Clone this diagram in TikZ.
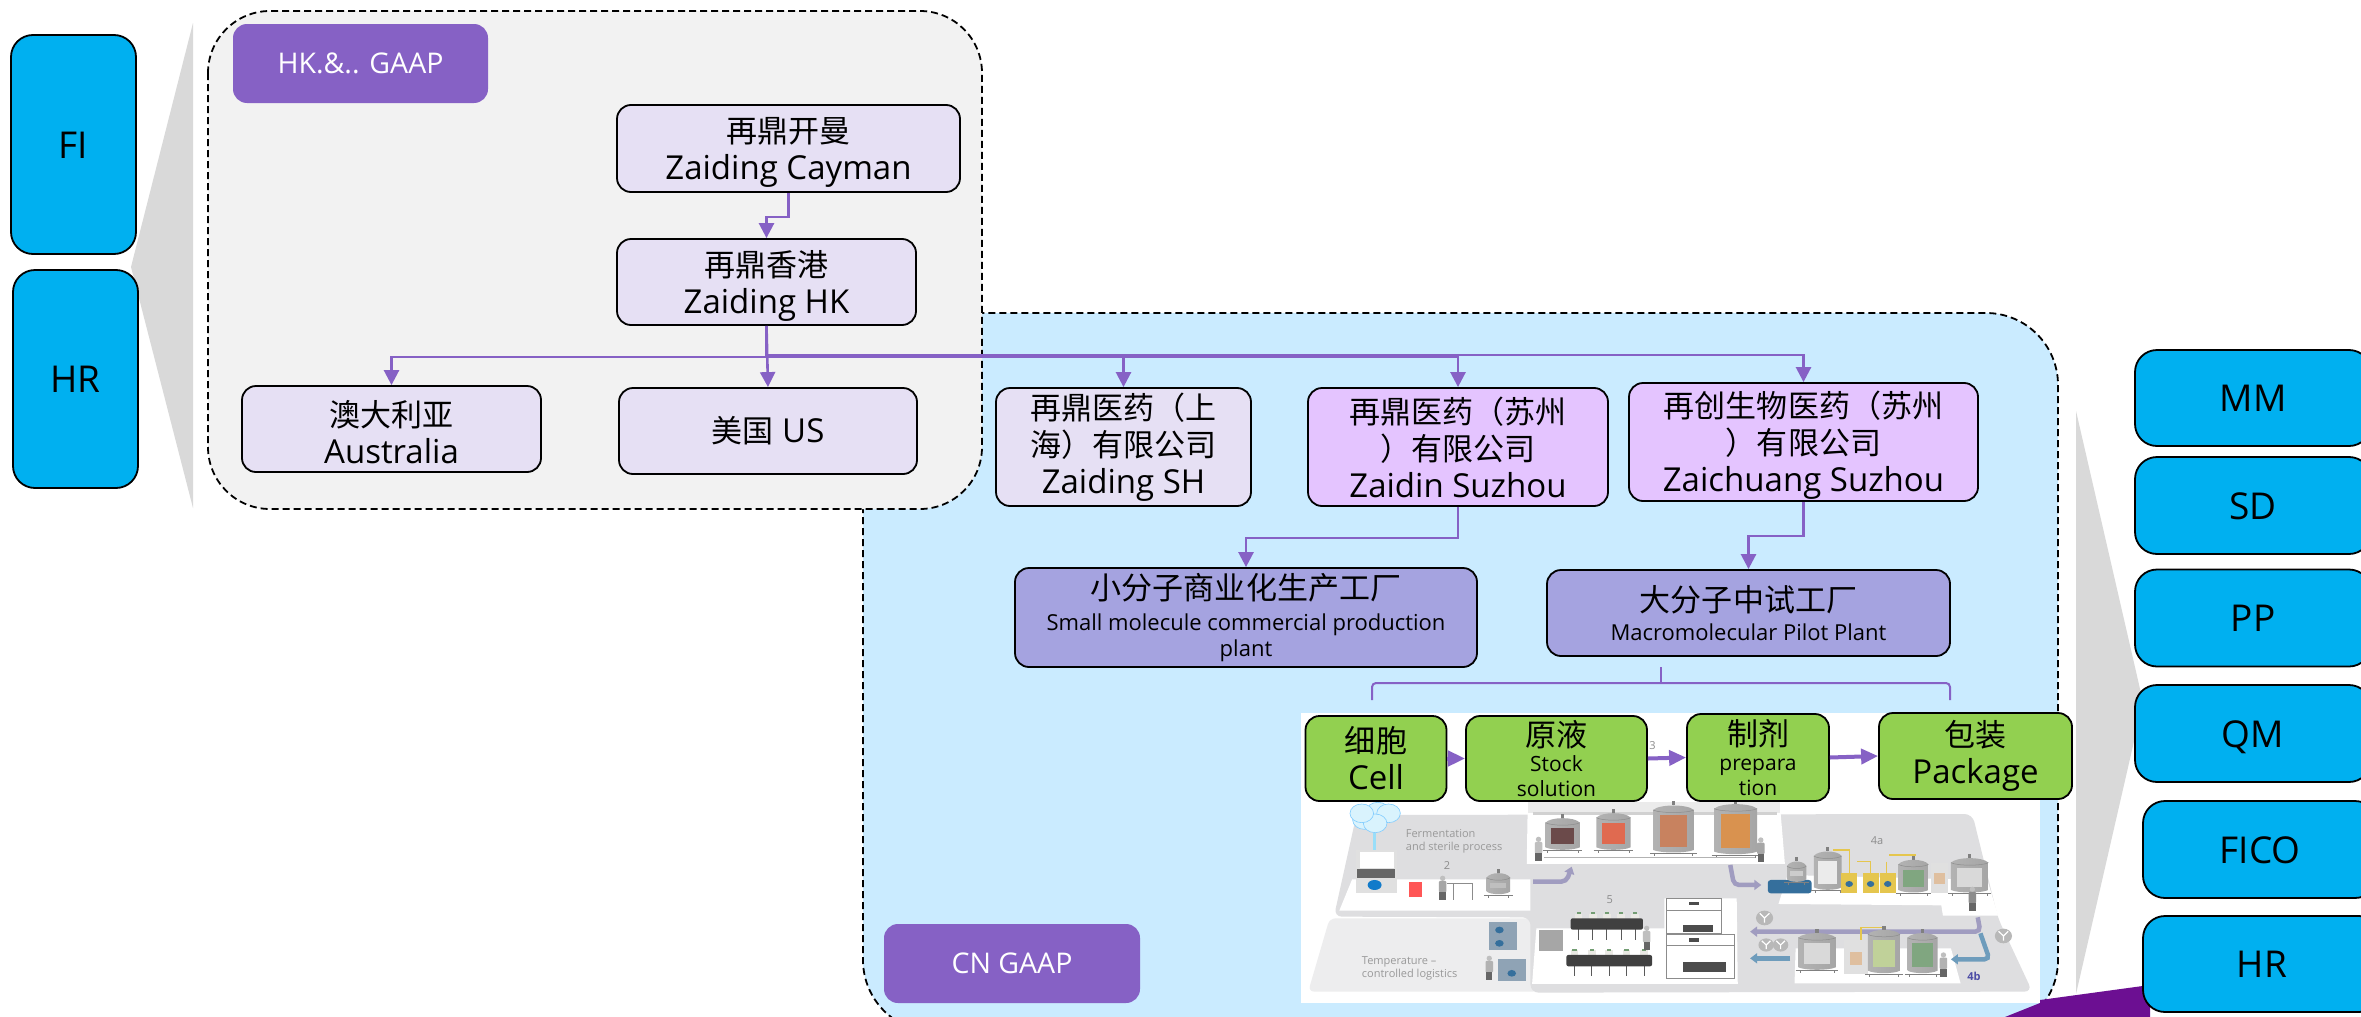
\documentclass[tikz,border=0pt]{standalone}
\usepackage{fontspec}
\setmainfont{Open Sans}
\newfontfamily\cjkf[Scale=0.94]{Noto Sans CJK SC}
\usetikzlibrary{arrows.meta}
\newcommand\zh[1]{{\cjkf #1}}
\newcommand\tp{\rule{0pt}{33pt}}
\newcommand\subf{\fontsize{22}{25}\selectfont}
\newcommand\subg{\fontsize{21}{25}\selectfont}
\definecolor{arrowpurple}{HTML}{8661C5}
\definecolor{lavender}{HTML}{E6E0F4}
\definecolor{pinkish}{HTML}{E4C4FF}
\definecolor{plantblue}{HTML}{A5A3E0}
\definecolor{greenbox}{HTML}{92D050}
\definecolor{sapblue}{HTML}{00B0F0}
\definecolor{panelblue}{HTML}{CAEBFF}
\definecolor{panelgrey}{HTML}{F2F2F2}
\definecolor{funnel}{HTML}{D9D9D9}
\definecolor{darkpurple}{HTML}{6C0F92}
\definecolor{floorA}{HTML}{DEDEE0}
\definecolor{floorB}{HTML}{EDEDEE}
\definecolor{pipeP}{HTML}{A09CC0}
\definecolor{pipeB}{HTML}{6E9CBC}
\definecolor{crate}{HTML}{8FA3B5}
\definecolor{yel}{HTML}{E5C64E}
\definecolor{pump}{HTML}{356F9C}
\tikzset{
  x=1pt,y=-1pt,
  base/.style={draw=black,line width=1.8pt,rounded corners=14pt,inner sep=0pt,align=center,
    font=\fontsize{33}{37}\selectfont},
  sz/.style 2 args={minimum width=#1,minimum height=#2},
  lav/.style={base,fill=lavender},
  pink/.style={base,fill=pinkish},
  plant/.style={base,fill=plantblue},
  gbox/.style={base,fill=greenbox},
  sapbox/.style={base,fill=sapblue,rounded corners=22pt,font=\fontsize{37}{44}\selectfont,
    text height=27pt,text depth=0pt},
  tag/.style={fill=arrowpurple,rounded corners=14pt,text=white,inner sep=0pt,
    font=\fontsize{28.5}{33}\selectfont},
  panel/.style={draw=black,line width=1.8pt,dash pattern=on 7pt off 4pt},
  conn/.style={draw=arrowpurple,line width=2.6pt,-{Triangle[length=15pt,width=15pt]}},
  flow/.style={draw=arrowpurple,line width=4pt,-{Triangle[length=17pt,width=15pt]}},
  scenetext/.style={text=black!40,inner sep=0pt,align=left,font=\fontsize{11}{13}\selectfont},
  scenenum/.style={text=black!45,inner sep=0pt,font=\fontsize{11}{13}\selectfont},
  pipe/.style={line width=4.5pt,rounded corners=5pt,-{Triangle[length=7pt,width=10pt]}},
}
% vessel: centre x, top y, half width, bottom y, window colour
\newcommand\vessel[5]{%
  \fill[black!50] (#1-3,#2-8) rectangle (#1+3,#2+4);
  \shade[left color=black!30,middle color=white,right color=black!35]
     (#1-#3,#2+18) .. controls (#1-#3*0.7,#2) and (#1+#3*0.7,#2) .. (#1+#3,#2+18)
     -- (#1+#3,#4-10) .. controls (#1+#3*0.6,#4) and (#1-#3*0.6,#4) .. (#1-#3,#4-10) -- cycle;
  \draw[black!45,line width=0.5pt] (#1-#3,#2+18) .. controls (#1-#3*0.7,#2+28) and (#1+#3*0.7,#2+28) .. (#1+#3,#2+18);
  \fill[#5] (#1-#3*0.68,#2+34) rectangle (#1+#3*0.68,#4-20);
  \draw[black!50,line width=0.8pt] (#1-#3-5,#4) -- (#1+#3+5,#4);
  \draw[black!50,line width=0.6pt] (#1-#3+3,#4) -- ++(0,8) (#1+#3-3,#4) -- ++(0,8);
}
\newcommand\conveyor[3]{% x0,x1,y
  \foreach \cx in {0,1,2,3,4}{
    \draw[black!65,line width=0.7pt] ({#1+15+\cx*(#2-#1-30)/4},#3+30) -- ++(0,34);
    \fill[yellow!20!black!12] ({#1+8+\cx*(#2-#1-30)/4},#3-14) rectangle ++(14,16);
    \fill[green!30!black!55] ({#1+11+\cx*(#2-#1-30)/4},#3-18) rectangle ++(8,6);
  }
  \fill[black!75,rounded corners=2pt] (#1,#3) rectangle (#2,#3+34);
}
\newcommand\person[3]{% x, top y, colour
  \fill[black!25] (#1,#2) ellipse (5 and 8);
  \fill[#3,rounded corners=1pt] (#1-7,#2+8) rectangle (#1+7,#2+42);
  \fill[black!60] (#1-6,#2+42) rectangle (#1+6,#2+66);
}
\newcommand\abody[3]{% antibody bubble x,y,scale factor
  \fill[black!28] (#1,#2) ellipse (#3*16 and #3*22);
  \draw[white,line width=1.2pt] (#1,#2+#3*14) -- (#1,#2) -- (#1-#3*9,#2-#3*14) (#1,#2) -- (#1+#3*9,#2-#3*14);
}
\begin{document}
\begin{tikzpicture}
\useasboundingbox (0,0) rectangle (2361,1017);
\clip (0,0) rectangle (2361,1017);
\fill[white] (0,0) rectangle (2361,1017);

% funnels
\fill[funnel] (193,23) -- (131,267) -- (193,508) -- cycle;
\fill[funnel] (2076,411) -- (2143,702) -- (2076,994) -- cycle;

% blue panel, then grey panel
\draw[panel,fill=panelblue,rounded corners=72pt] (863,313) rectangle (2058,1032);
\draw[panel,fill=panelgrey,rounded corners=62pt] (208,11) rectangle (982,509);
\fill[darkpurple] (2005,1017) -- (2040,1003) -- (2040,1000) -- (2150,985) -- (2150,1017) -- cycle;

% factory picture
\begin{scope}[shift={(1260,680)},x=0.5356pt,y=-0.3333pt]
  \fill[white] (77,98) rectangle (1456,970);
  % floors
  \fill[floorB,rounded corners=6pt] (90,935) -- (130,715) -- (520,715) -- (520,935) -- cycle;
  \fill[floorA,rounded corners=8pt] (138,710) -- (180,405) -- (1330,402) -- (1378,715) -- (1442,935)
      -- (505,938) -- (505,712) -- cycle;
  % platforms
  \fill[white] (500,360) -- (970,360) -- (980,552) -- (498,552) -- cycle;
  \fill[white] (148,692) -- (172,598) -- (505,598) -- (505,692) -- cycle;
  \fill[white] (968,672) -- (985,585) -- (1358,600) -- (1378,707) -- (1275,707) -- (1272,676) -- cycle;
  \fill[white] (508,912) -- (516,745) -- (755,745) -- (755,655) -- (890,655) -- (892,912) -- cycle;
  \fill[white] (998,910) -- (1000,805) -- (1290,805) -- (1308,910) -- cycle;
  % pipes
  \draw[pipe,pipeP] (510,605) -- (572,605) -- (582,560);
  \draw[pipe,pipeP] (878,555) -- (885,615) -- (936,615);
  \draw[pipe,pipeP] (1340,712) -- (1345,755) -- (915,755);
  \draw[pipe,pipeB] (1345,760) -- (1362,838) -- (1290,838);
  \draw[pipe,pipeB] (990,835) -- (915,835);
  % fermentation: cells and freezer
  \foreach \a/\b in {195/420,220/395,240/400,215/430,190/400}
    \draw[blue!40!cyan!50,fill=cyan!15,line width=0.6pt] (\a,\b) ellipse (22 and 28);
  \draw[cyan!40,line width=3pt,-{Triangle[length=6pt,width=9pt]}] (214,460) -- (214,555);
  \fill[black!12] (180,510) rectangle (256,640);
  \fill[white] (186,515) rectangle (250,565);
  \fill[black!60] (182,566) rectangle (252,595);
  \fill[cyan!60!blue] (214,615) circle (13 and 15);
  \fill[red!55!pink] (278,605) rectangle (302,652);
  \person{341}{595}{black!35}
  \draw[black!45,line width=1pt] (350,610) -- (396,610) -- (396,660) (362,610) -- (362,660);
  \vessel{445}{575}{22}{645}{black!25}
  % reactors
  \fill[black!8] (500,365) rectangle (970,400);
  \draw[black!18,line width=3pt] (510,400) -- (965,400);
  \definecolor{winA}{HTML}{6B4A4A}
  \definecolor{winB}{HTML}{E06A50}
  \definecolor{winC}{HTML}{C8825F}
  \definecolor{winD}{HTML}{D9924F}
  \vessel{565}{410}{32}{512}{winA}
  \vessel{660}{395}{32}{512}{winB}
  \vessel{772}{372}{38}{520}{winC}
  \vessel{888}{368}{40}{525}{winD}
  \person{520}{478}{black!25}
  \person{935}{480}{black!35}
  \draw[black!30,line width=0.8pt] (530,532) -- (925,532);
  % 4a
  \draw[yel,line width=1.2pt] (1070,510) -- (1100,510) -- (1100,580) (1115,545) -- (1140,545) -- (1140,580) (1170,545) -- (1170,580) (1175,525) -- (1225,525);
  \fill[pump,rounded corners=3pt] (948,600) rectangle (1030,640);
  \vessel{1002}{540}{18}{608}{black!20}
  \vessel{1060}{510}{26}{632}{black!8}
  \foreach \a in {1100,1140,1172}{
    \fill[yel] (\a-15,580) rectangle (\a+15,640);
    \fill[pump] (\a,612) circle (7 and 9);
  }
  \vessel{1220}{535}{28}{640}{green!30!black!50}
  \fill[black!12] (1252,550) rectangle (1284,640);
  \fill[brown!50] (1258,580) rectangle (1278,612);
  \vessel{1325}{530}{35}{640}{black!15}
  \person{1330}{628}{black!45}
  % 4b
  \draw[yel,line width=1.2pt] (1122,780) -- (1122,742) -- (1162,742) -- (1162,760);
  \vessel{1040}{755}{35}{872}{black!15}
  \fill[black!12] (1090,780) rectangle (1135,882);
  \fill[brown!50] (1102,815) rectangle (1124,855);
  \vessel{1165}{745}{30}{882}{green!30!yellow!55!black!40}
  \vessel{1237}{755}{28}{882}{green!30!black!50}
  \person{1276}{825}{white!70!black}
  % 5
  \conveyor{580}{715}{715}
  \conveyor{572}{732}{825}
  \person{722}{745}{white!75!black}
  \draw[black!45,fill=white,line width=1pt] (758,655) rectangle (862,762);
  \draw[black!45,fill=white,line width=1pt] (758,692) rectangle (862,762);
  \draw[black!45,fill=white,line width=1pt] (758,765) rectangle (886,895);
  \draw[black!45,line width=1pt] (758,798) -- (886,798);
  \fill[black!70] (790,735) -- (845,735) -- (845,757) -- (790,757) -- cycle;
  \fill[black!70] (790,845) -- (870,845) -- (870,875) -- (790,875) -- cycle;
  \fill[black!70] (800,665) rectangle (820,675);
  \fill[black!70] (800,775) rectangle (820,785);
  \fill[black!35] (520,750) rectangle (566,812);
  % logistics
  \fill[crate] (428,725) rectangle (480,810);
  \fill[pump] (447,750) circle (8 and 10) (447,790) circle (8 and 10);
  \fill[crate] (444,838) rectangle (496,902);
  \fill[pump] (470,880) circle (8 and 10);
  \person{428}{835}{black!30}
  % antibodies
  \abody{942}{714}{1}
  \abody{945}{795}{0.9}
  \abody{972}{795}{0.9}
  \abody{1388}{768}{1}
  % texts
  \node[scenetext,anchor=west] (ferm) at (272,485) {Fermentation\\and sterile process};
  \node[scenetext,anchor=west] (temp) at (190,866) {Temperature –\\controlled logistics};
  \node[scenenum] (n2) at (349,558) {2};
  \node[scenenum] (n3) at (733,197) {3};
  \node[scenenum] (n4a) at (1152,482) {4a};
  \node[scenenum] (n5) at (653,658) {5};
  \node[scenenum,text=blue!50!black!70,font=\bfseries\fontsize{11}{13}\selectfont] (n4b) at (1333,888) {4b};
\end{scope}

% left boxes
\node[sapbox,sz={125pt}{219pt}] (fi) at (73.5,144.5) {FI};
\node[sapbox,sz={125pt}{218pt}] (hrl) at (75.5,379) {HR};

% tags
\node[tag,sz={255pt}{79pt}] (hktag) at (360.5,63.5) {HK.\&.. GAAP};
\node[tag,sz={256pt}{79pt}] (cntag) at (1012,963.5) {CN GAAP};

% HK group
\node[lav,sz={343pt}{87pt}] (cayman) at (788.5,148.5) {\tp\zh{再鼎开曼}\\Zaiding Cayman};
\node[lav,sz={299pt}{86pt}] (hk) at (766.5,282) {\tp\zh{再鼎香港}\\Zaiding HK};
\node[lav,sz={299pt}{86pt}] (aus) at (391.5,429) {\tp\zh{澳大利亚}\\Australia};
\node[lav,sz={298pt}{86pt}] (us) at (768,431) {\zh{美国} US};

% CN group
\node[lav,sz={255pt}{118pt}] (sh) at (1123.5,447) {\zh{再鼎医药（上}\\\zh{海）有限公司}\\Zaiding SH};
\node[pink,sz={300pt}{118pt}] (zaidin) at (1458,447) {\zh{再鼎医药（苏州}\\\zh{）有限公司}\\Zaidin Suzhou};
\node[pink,sz={349pt}{118pt}] (zaichuang) at (1803.5,442) {\tp\zh{再创生物医药（苏州}\\\zh{）有限公司}\\Zaichuang Suzhou};
\node[plant,sz={462pt}{99pt}] (small) at (1246,617.5) {\zh{小分子商业化生产工厂}\\[-6pt]\subf Small molecule commercial production\\[-11pt]\subf plant};
\node[plant,sz={403pt}{86pt}] (macro) at (1748.5,613) {\zh{大分子中试工厂}\\[-8pt]\subf Macromolecular Pilot Plant};

% brace
\coordinate (brL) at (1372,700);
\coordinate (brR) at (1950,700);
\coordinate (brT) at (1661,667);
\draw[arrowpurple,line width=2pt,rounded corners=4pt] (brL) -- (1372,683) -- (1950,683) -- (brR);
\draw[arrowpurple,line width=2pt] (brT) -- ++(0,16);

% green boxes
\node[gbox,sz={141pt}{85pt}] (cell) at (1376,758.5) {\zh{细胞}\\Cell};
\node[gbox,sz={181pt}{85pt},font=\subg] (stock) at (1556.5,758.5) {{\fontsize{33}{34}\selectfont\zh{原液}}\\Stock\\solution};
\node[gbox,sz={142pt}{87pt},font=\subg] (prep) at (1758,757.5) {{\fontsize{33}{34}\selectfont\zh{制剂}}\\prepara\\tion};
\node[gbox,sz={193pt}{86pt}] (pack) at (1975.5,756) {\zh{包装}\\Package};

% right boxes
\node[sapbox,sz={236pt}{96pt}] (mm) at (2253,398) {MM};
\node[sapbox,sz={236pt}{97pt}] (sd) at (2253,505.5) {SD};
\node[sapbox,sz={236pt}{97pt}] (pp) at (2253,618) {PP};
\node[sapbox,sz={236pt}{97pt}] (qm) at (2253,733.5) {QM};
\node[sapbox,sz={234pt}{97pt}] (fico) at (2260,849.5) {FICO};
\node[sapbox,sz={238pt}{96pt}] (hrr) at (2262,964) {HR};

% connectors
\draw[conn] (cayman.south) -- ++(0,24) -| (hk.north);
\draw[conn] (hk.south) -- ++(0,31) -| (aus.north);
\draw[conn] (hk.south) -- (us.north);
\draw[conn] (hk.south) -- ++(0,31) -| (sh.north);
\draw[conn] (hk.south) -- ++(0,31) -| (zaidin.north);
\draw[conn] (hk.south) -- ++(0,29) -| (zaichuang.north);
\draw[conn] (zaidin.south) -- ++(0,31) -| (small.north);
\draw[conn] (zaichuang.south) -- ++(0,34) -| (macro.north);
\draw[flow] (cell.east) -- (stock.west);
\draw[flow] (stock.east) -- (prep.west);
\draw[flow] (prep.east) -- (pack.west);
\end{tikzpicture}
\end{document}
